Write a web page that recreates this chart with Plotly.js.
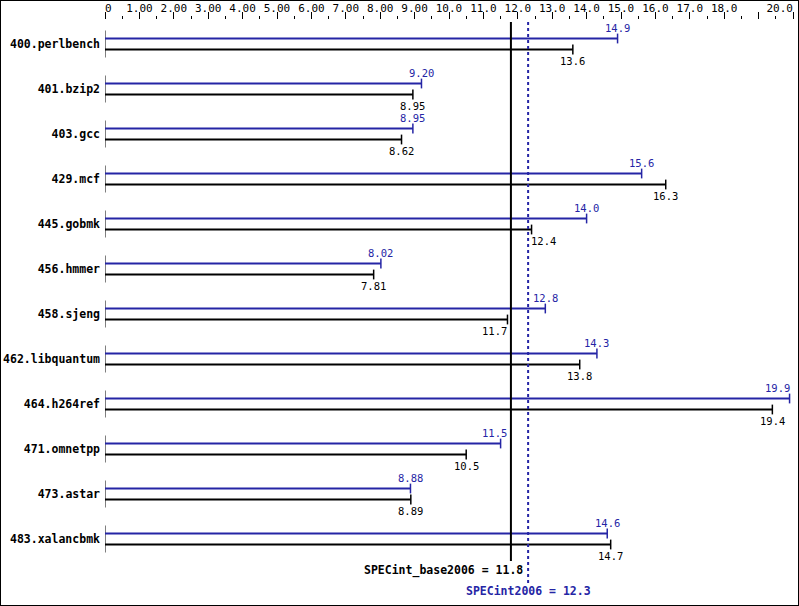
<!DOCTYPE html>
<html>
<head>
<meta charset="utf-8">
<script src="https://cdn.plot.ly/plotly-3.0.1.min.js"></script>
<style>
html,body{margin:0;padding:0;background:#fff;}
#chart{width:799px;height:606px;box-sizing:border-box;border:1px solid #000;}
</style>
</head>
<body>
<div id="chart"></div>
<script>
var benchmarks = ["400.perlbench","401.bzip2","403.gcc","429.mcf","445.gobmk","456.hmmer","458.sjeng","462.libquantum","464.h264ref","471.omnetpp","473.astar","483.xalancbmk"];
var peakValues = [14.9, 9.20, 8.95, 15.6, 14.0, 8.02, 12.8, 14.3, 19.9, 11.5, 8.88, 14.6];
var peakLabels = ["14.9","9.20","8.95","15.6","14.0","8.02","12.8","14.3","19.9","11.5","8.88","14.6"];
var baseValues = [13.6, 8.95, 8.62, 16.3, 12.4, 7.81, 11.7, 13.8, 19.4, 10.5, 8.89, 14.7];
var baseLabels = ["13.6","8.95","8.62","16.3","12.4","7.81","11.7","13.8","19.4","10.5","8.89","14.7"];
var baseMean = 11.8, baseMeanLabel = "11.8";
var peakMean = 12.3, peakMeanLabel = "12.3";
var tickValues = [0,1,2,3,4,5,6,7,8,9,10,11,12,13,14,15,16,17,18,19,20];
var tickLabels = ["\u00a00","1.00","2.00","3.00","4.00","5.00","6.00","7.00","8.00","9.00","10.0","11.0","12.0","13.0","14.0","15.0","16.0","17.0","18.0","",""];
var endTickValues = [20];
var endTickLabels = ["20.0"];

var BLUE = "#2525a5";
var FONT = "DejaVu Sans Mono";
var FS = 11.5, FS_VAL = 10.5, FS_TICK = 11;
var OFF = 5.5/45;
var XMAX = 20, PLOTW = 688, PXU = PLOTW / XMAX, CHARW = 6.3;

function barTraces(values, off, color) {
  var lx = [], ly = [], idx = [];
  for (var i = 0; i < values.length; i++) {
    lx.push(0, values[i], null);
    ly.push(i + off, i + off, null);
    idx.push(i + off);
  }
  return [
    {type:"scatter", mode:"lines", x:lx, y:ly, line:{color:color, width:2}, hoverinfo:"skip", showlegend:false},
    {type:"scatter", mode:"markers", x:values, y:idx,
     marker:{symbol:"line-ns", size:7, line:{color:color, width:1.5}}, hoverinfo:"skip", showlegend:false}
  ];
}

// shift a value label sideways so it does not cross a mean line or the plot edge
function labelShift(v, label) {
  var end = v * PXU, w = label.length * CHARW;
  var left = end - w / 2, right = end + w / 2, shift = 0;
  [baseMean * PXU, peakMean * PXU].forEach(function(L) {
    if (left + shift < L && right + shift > L) {
      if (end < L) shift = (L - 4) - right;
      else shift = (end - 1) - left;
    }
  });
  if (right + shift > PLOTW) shift = (end + 1) - right;
  return shift;
}

function valueAnnotations(values, labels, off, color, yshift) {
  return values.map(function(v, i) {
    return {x:v, y:i + off, xref:"x", yref:"y", text:labels[i], showarrow:false,
      xanchor:"center", yanchor:"middle", xshift:labelShift(v, labels[i]), yshift:yshift, borderpad:0,
      font:{family:FONT, size:FS_VAL, color:color}};
  });
}

var sx = [], sy = [];
for (var i = 0; i < benchmarks.length; i++) { sx.push(0, 0, null); sy.push(i - 0.3, i + 0.3, null); }

var traces = [{type:"scatter", mode:"lines", x:sx, y:sy, line:{color:"#000", width:1}, hoverinfo:"skip", showlegend:false}]
  .concat(barTraces(peakValues, -OFF, BLUE))
  .concat(barTraces(baseValues, OFF, "#000"))
  .concat([{type:"scatter", mode:"markers", x:endTickValues, y:[0], xaxis:"x2", yaxis:"y",
    marker:{opacity:0}, hoverinfo:"skip", showlegend:false}]);

var idxs = benchmarks.map(function(_, i){ return i; });

var annotations = valueAnnotations(peakValues, peakLabels, -OFF, BLUE, 11)
  .concat(valueAnnotations(baseValues, baseLabels, OFF, "#000", -11))
  .concat([
    {x:baseMean, y:11.69, xref:"x", yref:"y", xanchor:"right", yanchor:"middle", xshift:14, showarrow:false,
     text:"SPECint_base2006 = " + baseMeanLabel, font:{family:FONT, size:FS, color:"#000", weight:"bold"}},
    {x:peakMean, y:12.16, xref:"x", yref:"y", xanchor:"center", yanchor:"middle", showarrow:false,
     text:"SPECint2006 = " + peakMeanLabel, font:{family:FONT, size:FS, color:BLUE, weight:"bold"}}
  ]);

var layout = {
  width:797, height:604,
  margin:{l:104, r:5, t:19, b:5},
  paper_bgcolor:"#fff", plot_bgcolor:"#fff",
  showlegend:false,
  xaxis:{side:"top", range:[0,XMAX], tickmode:"array", tickvals:tickValues, ticktext:tickLabels,
    ticks:"outside", ticklen:7, tickcolor:"#000", tickwidth:1, showgrid:false, zeroline:false, showline:false,
    ticklabeloverflow:"allow", ticklabelstandoff:-4,
    tickfont:{family:FONT, size:FS_TICK, color:"#000"}, fixedrange:true,
    minor:{tick0:0, dtick:0.5, ticks:"outside", ticklen:3, tickcolor:"#000", tickwidth:1, showgrid:false}},
  xaxis2:{overlaying:"x", side:"top", range:[0,XMAX], tickmode:"array", tickvals:endTickValues, ticktext:endTickLabels,
    ticks:"", showgrid:false, zeroline:false, showline:false, ticklabelposition:"outside left",
    ticklabeloverflow:"allow", ticklabelstandoff:5,
    tickfont:{family:FONT, size:FS_TICK, color:"#000"}, fixedrange:true},
  yaxis:{range:[12.3556, -0.5333], tickmode:"array", tickvals:idxs, ticktext:benchmarks,
    ticks:"", showgrid:false, zeroline:false, showline:false, fixedrange:true, ticklabelstandoff:4,
    tickfont:{family:FONT, size:FS, color:"#000", weight:"bold"}},
  shapes:[
    {type:"line", xref:"x", yref:"y", x0:baseMean, x1:baseMean, y0:-0.489, y1:11.49, line:{color:"#000", width:2}},
    {type:"line", xref:"x", yref:"y", x0:peakMean, x1:peakMean, y0:-0.489, y1:11.98, line:{color:BLUE, width:2, dash:"dot"}}
  ],
  annotations:annotations
};

Plotly.newPlot("chart", traces, layout, {staticPlot:true, displayModeBar:false});
</script>
</body>
</html>
